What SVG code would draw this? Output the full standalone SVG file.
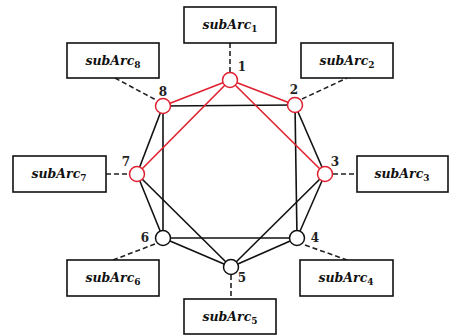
<svg xmlns="http://www.w3.org/2000/svg" width="449" height="336" viewBox="0 0 449 336">
<style>
.box{fill:#fff;stroke:#111;stroke-width:1.6}
.bt{font-family:"DejaVu Serif",serif;font-weight:bold;font-style:italic;font-size:12.5px;fill:#111;text-anchor:middle}
.sub{font-size:9px;font-style:normal}
.dash{stroke:#222;stroke-width:1.6;stroke-dasharray:5,3;fill:none}
.e{stroke:#111;stroke-width:1.6;fill:none}
.r{stroke:#e02030;stroke-width:1.6;fill:none}
.nb{fill:#fff;stroke:#111;stroke-width:1.5}
.nr{fill:#fff;stroke:#e02030;stroke-width:1.5}
.lb{font-family:"DejaVu Serif",serif;font-weight:bold;font-size:12px;fill:#222;text-anchor:middle}
</style>
<g id="connectors">
<line class="dash" x1="230" y1="43" x2="230" y2="72"/>
<line class="dash" x1="115" y1="78" x2="156" y2="100"/>
<line class="dash" x1="302" y1="99" x2="347" y2="78"/>
<line class="dash" x1="106" y1="174" x2="129" y2="174"/>
<line class="dash" x1="333" y1="174" x2="357" y2="174"/>
<line class="dash" x1="155" y1="244" x2="113" y2="260"/>
<line class="dash" x1="305" y1="245" x2="347" y2="260"/>
<line class="dash" x1="231" y1="275" x2="231" y2="299"/>
<line class="e" x1="163" y1="106" x2="295" y2="105"/>
<line class="e" x1="163" y1="106" x2="163" y2="238"/>
<line class="e" x1="295" y1="105" x2="297" y2="238"/>
<line class="e" x1="163" y1="238" x2="297" y2="238"/>
<line class="e" x1="295" y1="105" x2="325" y2="174"/>
<line class="e" x1="325" y1="174" x2="297" y2="238"/>
<line class="e" x1="297" y1="238" x2="231" y2="267"/>
<line class="e" x1="231" y1="267" x2="163" y2="238"/>
<line class="e" x1="163" y1="238" x2="137" y2="174"/>
<line class="e" x1="137" y1="174" x2="163" y2="106"/>
<line class="e" x1="137" y1="174" x2="231" y2="267"/>
<line class="e" x1="325" y1="174" x2="231" y2="267"/>
<line class="r" x1="230" y1="80" x2="295" y2="105"/>
<line class="r" x1="230" y1="80" x2="163" y2="106"/>
<line class="r" x1="230" y1="80" x2="325" y2="174"/>
<line class="r" x1="230" y1="80" x2="137" y2="174"/>
</g>
<g id="node1"><circle class="nr" cx="230" cy="80" r="7.5"/><text class="lb" x="242" y="71">1</text></g>
<g id="node2"><circle class="nr" cx="295" cy="105" r="7.5"/><text class="lb" x="294" y="94">2</text></g>
<g id="node3"><circle class="nr" cx="325" cy="174" r="7.5"/><text class="lb" x="335" y="166">3</text></g>
<g id="node4"><circle class="nb" cx="297" cy="238" r="7.5"/><text class="lb" x="315" y="242">4</text></g>
<g id="node5"><circle class="nb" cx="231" cy="267" r="7.5"/><text class="lb" x="242" y="282">5</text></g>
<g id="node6"><circle class="nb" cx="163" cy="238" r="7.5"/><text class="lb" x="145" y="242">6</text></g>
<g id="node7"><circle class="nr" cx="137" cy="174" r="7.5"/><text class="lb" x="126" y="166">7</text></g>
<g id="node8"><circle class="nr" cx="163" cy="106" r="7.5"/><text class="lb" x="163" y="96">8</text></g>
<g id="subArc1"><rect class="box" x="184" y="7" width="92" height="36"/><text class="bt" x="230" y="29">subArc<tspan class="sub" dy="3">1</tspan></text></g>
<g id="subArc2"><rect class="box" x="301" y="43" width="92" height="35"/><text class="bt" x="347" y="65">subArc<tspan class="sub" dy="3">2</tspan></text></g>
<g id="subArc3"><rect class="box" x="357" y="156" width="91" height="36"/><text class="bt" x="402" y="178">subArc<tspan class="sub" dy="3">3</tspan></text></g>
<g id="subArc4"><rect class="box" x="300" y="260" width="93" height="36"/><text class="bt" x="346" y="282">subArc<tspan class="sub" dy="3">4</tspan></text></g>
<g id="subArc5"><rect class="box" x="184" y="299" width="92" height="35"/><text class="bt" x="230" y="321">subArc<tspan class="sub" dy="3">5</tspan></text></g>
<g id="subArc6"><rect class="box" x="67" y="260" width="92" height="36"/><text class="bt" x="113" y="282">subArc<tspan class="sub" dy="3">6</tspan></text></g>
<g id="subArc7"><rect class="box" x="13" y="156" width="93" height="36"/><text class="bt" x="59" y="178">subArc<tspan class="sub" dy="3">7</tspan></text></g>
<g id="subArc8"><rect class="box" x="67" y="43" width="92" height="35"/><text class="bt" x="113" y="65">subArc<tspan class="sub" dy="3">8</tspan></text></g>
</svg>
